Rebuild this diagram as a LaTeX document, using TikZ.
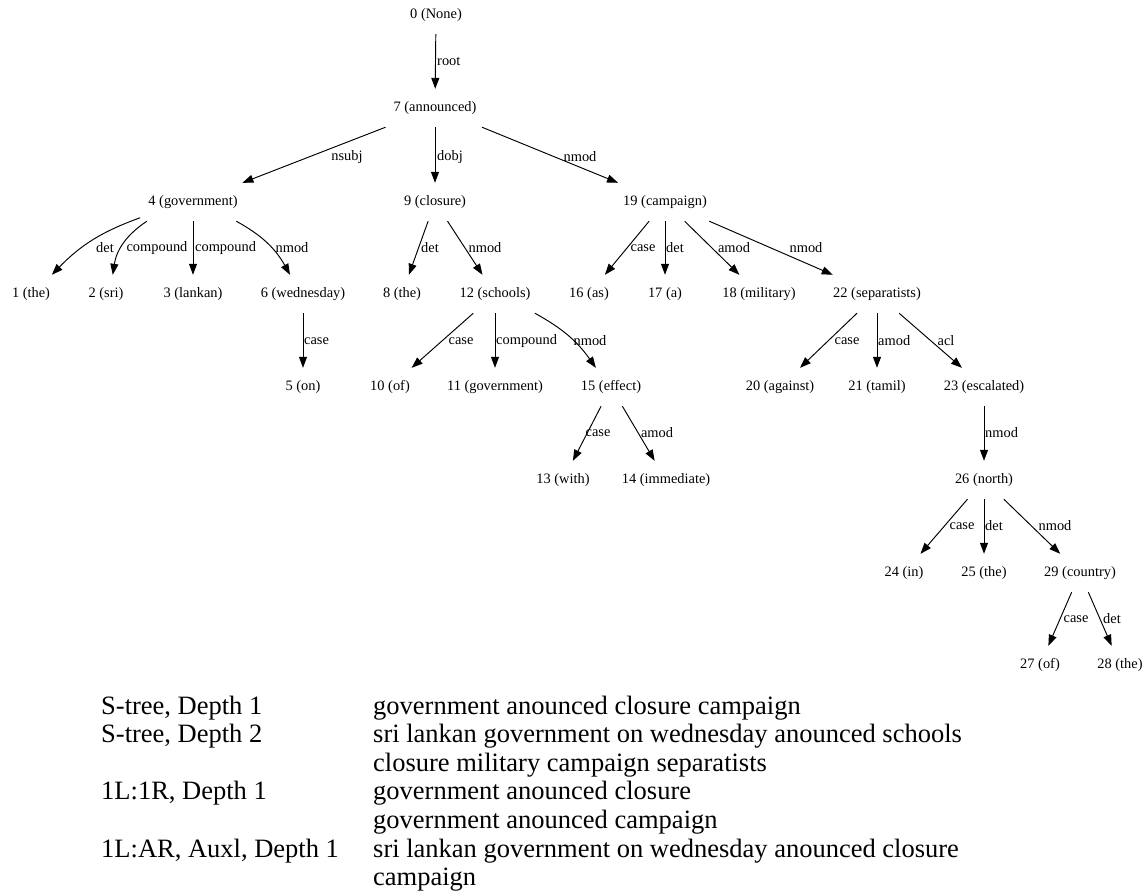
\documentclass[tikz,border=0pt]{standalone}
\usepackage{fontspec}
\setmainfont{Liberation Serif}
\usetikzlibrary{arrows.meta}
\begin{document}
\begin{tikzpicture}[x=1pt,y=-1pt,
  tn/.style={font=\fontsize{14.4}{16}\selectfont, inner xsep=8pt, inner ysep=0pt, minimum height=38pt},
  lb/.style={font=\fontsize{14.4}{16}\selectfont, inner sep=0pt},
  lw/.style={lb, anchor=west},
  dep/.style={-{Triangle[length=11pt,width=8pt]}, line width=0.95pt},
  tx/.style={font=\fontsize{26.5}{30}\selectfont, inner sep=0pt, anchor=base west}]
\useasboundingbox (0,0) rectangle (1148,894);
% nodes
\node[tn] (n0)  at (436,15)  {0 (None)};
\node[tn] (n7)  at (435,108) {7 (announced)};
\node[tn] (n4)  at (193,202) {4 (government)};
\node[tn] (n9)  at (435,202) {9 (closure)};
\node[tn] (n19) at (665,202) {19 (campaign)};
\node[tn] (n1)  at (31,294)  {1 (the)};
\node[tn] (n2)  at (106,294) {2 (sri)};
\node[tn] (n3)  at (193,294) {3 (lankan)};
\node[tn] (n6)  at (303,294) {6 (wednesday)};
\node[tn] (n8)  at (402,294) {8 (the)};
\node[tn] (n12) at (495,294) {12 (schools)};
\node[tn] (n16) at (589,294) {16 (as)};
\node[tn] (n17) at (665,294) {17 (a)};
\node[tn] (n18) at (759,294) {18 (military)};
\node[tn] (n22) at (877,294) {22 (separatists)};
\node[tn] (n5)  at (303,387) {5 (on)};
\node[tn] (n10) at (390,387) {10 (of)};
\node[tn] (n11) at (495,387) {11 (government)};
\node[tn] (n15) at (611,387) {15 (effect)};
\node[tn] (n20) at (780,387) {20 (against)};
\node[tn] (n21) at (877,387) {21 (tamil)};
\node[tn] (n23) at (984,387) {23 (escalated)};
\node[tn] (n13) at (563,480) {13 (with)};
\node[tn] (n14) at (666,480) {14 (immediate)};
\node[tn] (n26) at (984,480) {26 (north)};
\node[tn] (n24) at (904,573) {24 (in)};
\node[tn] (n25) at (984,573) {25 (the)};
\node[tn] (n29) at (1080,573) {29 (country)};
\node[tn] (n27) at (1040,665) {27 (of)};
\node[tn] (n28) at (1120,665) {28 (the)};
% edges
\draw[dep] (n0) -- (n7);
\draw[dep] (n7) -- (n4);
\draw[dep] (n7) -- (n9);
\draw[dep] (n7) -- (n19);
\draw[dep] (n4) to[bend right=13] (n1);
\draw[dep] (n4) to[bend right=24] (n2);
\draw[dep] (n4) -- (n3);
\draw[dep] (n4) to[bend left=16] (n6);
\draw[dep] (n9) -- (n8);
\draw[dep] (n9) -- (n12);
\draw[dep] (n19) -- (n16);
\draw[dep] (n19) -- (n17);
\draw[dep] (n19) -- (n18);
\draw[dep] (n19) -- (n22);
\draw[dep] (n6) -- (n5);
\draw[dep] (n12) -- (n10);
\draw[dep] (n12) -- (n11);
\draw[dep] (n12) to[bend left=13] (n15);
\draw[dep] (n22) -- (n20);
\draw[dep] (n22) -- (n21);
\draw[dep] (n22) -- (n23);
\draw[dep] (n15) -- (n13);
\draw[dep] (n15) -- (n14);
\draw[dep] (n23) -- (n26);
\draw[dep] (n26) -- (n24);
\draw[dep] (n26) -- (n25);
\draw[dep] (n26) -- (n29);
\draw[dep] (n29) -- (n27);
\draw[dep] (n29) -- (n28);
% edge labels
\node[lw] (l0) at (437,62) {root};
\node[lb] (l1) at (347,157) {nsubj};
\node[lw] (l2) at (437,157) {dobj};
\node[lb] (l3) at (580,157) {nmod};
\node[lb] (l4) at (105,248) {det};
\node[lb] (l5) at (157,248) {compound};
\node[lw] (l6) at (195,248) {compound};
\node[lb] (l7) at (292,248) {nmod};
\node[lb] (l8) at (430,248) {det};
\node[lb] (l9) at (485,248) {nmod};
\node[lb] (l10) at (643,248) {case};
\node[lw] (l11) at (666,248) {det};
\node[lb] (l12) at (734,248) {amod};
\node[lb] (l13) at (806,248) {nmod};
\node[lw] (l14) at (304,341) {case};
\node[lb] (l15) at (461,341) {case};
\node[lw] (l16) at (496,341) {compound};
\node[lb] (l17) at (590,341) {nmod};
\node[lb] (l18) at (847,341) {case};
\node[lw] (l19) at (878,341) {amod};
\node[lb] (l20) at (946,341) {acl};
\node[lb] (l21) at (598,433) {case};
\node[lb] (l22) at (657,433) {amod};
\node[lw] (l23) at (985,433) {nmod};
\node[lb] (l24) at (962,526) {case};
\node[lw] (l25) at (985,526) {det};
\node[lb] (l26) at (1055,526) {nmod};
\node[lb] (l27) at (1076,619) {case};
\node[lb] (l28) at (1112,619) {det};
% bottom text
\node[tx] (t1) at (101,714) {S-tree, Depth 1};
\node[tx] (t2) at (101,742.6) {S-tree, Depth 2};
\node[tx] (t3) at (101,799.8) {1L:1R, Depth 1};
\node[tx] (t4) at (101,857) {1L:AR, Auxl, Depth 1};
\node[tx] (s1) at (373,714) {government anounced closure campaign};
\node[tx] (s2) at (373,742.6) {sri lankan government on wednesday anounced schools};
\node[tx] (s3) at (373,771.2) {closure military campaign separatists};
\node[tx] (s4) at (373,799.8) {government anounced closure};
\node[tx] (s5) at (373,828.4) {government anounced campaign};
\node[tx] (s6) at (373,857) {sri lankan government on wednesday anounced closure};
\node[tx] (s7) at (373,885.6) {campaign};
\end{tikzpicture}
\end{document}
